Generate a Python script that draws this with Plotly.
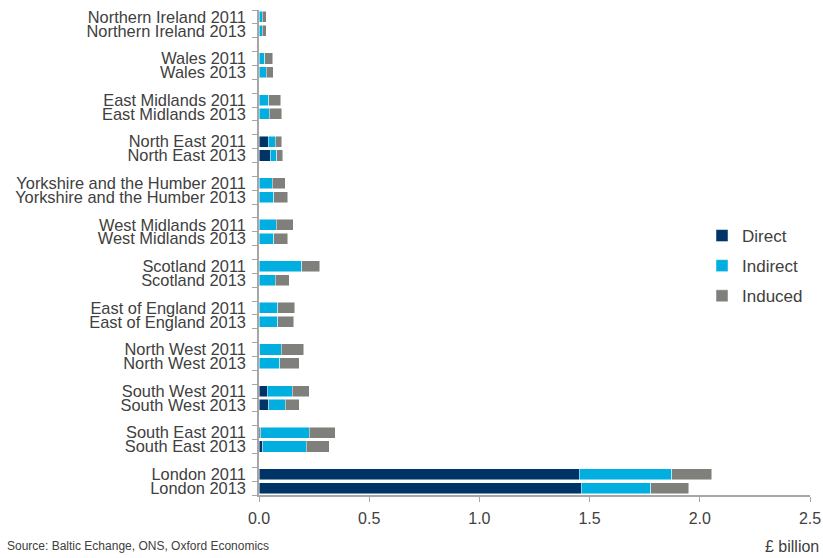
import plotly.graph_objects as go

# Regions, top to bottom; each has a 2011 and a 2013 bar
regions = [
    "Northern Ireland", "Wales", "East Midlands", "North East",
    "Yorkshire and the Humber", "West Midlands", "Scotland",
    "East of England", "North West", "South West", "South East", "London",
]
years = ["2011", "2013"]

# £ billion by component
direct_2011 = [0.0, 0.0, 0.0, 0.043, 0.0, 0.0, 0.0, 0.0, 0.003, 0.038, 0.008, 1.453]
direct_2013 = [0.0, 0.0, 0.0, 0.050, 0.0, 0.0, 0.0, 0.0, 0.002, 0.044, 0.018, 1.462]
indirect_2011 = [0.014, 0.027, 0.044, 0.030, 0.059, 0.079, 0.193, 0.086, 0.097, 0.112, 0.219, 0.420]
indirect_2013 = [0.014, 0.032, 0.047, 0.030, 0.068, 0.067, 0.073, 0.086, 0.093, 0.074, 0.197, 0.315]
induced_2011 = [0.020, 0.035, 0.055, 0.030, 0.059, 0.076, 0.082, 0.076, 0.103, 0.077, 0.118, 0.182]
induced_2013 = [0.020, 0.032, 0.056, 0.028, 0.063, 0.064, 0.065, 0.072, 0.087, 0.064, 0.103, 0.173]

series = [
    ("Direct", "#003366", direct_2011, direct_2013),
    ("Indirect", "#00AEDF", indirect_2011, indirect_2013),
    ("Induced", "#7F7F7B", induced_2011, induced_2013),
]

# Each region occupies three slots: 2011, 2013 and a blank spacer
ypos, labels = [], []
for g, region in enumerate(regions):
    for k, yr in enumerate(years):
        ypos.append(3 * g + k)
        labels.append(f"{region} {yr}")

fig = go.Figure()
for name, color, v11, v13 in series:
    xs = []
    for a, b in zip(v11, v13):
        xs.extend([a, b])
    fig.add_trace(go.Bar(
        y=ypos, x=xs, orientation="h", name=name, legendgroup=name,
        marker=dict(color=color, line=dict(color="rgba(255,255,255,0.8)", width=0.6)),
        width=0.8,
    ))

font_family = "Liberation Sans, Arial, sans-serif"
text_color = "#404040"
axis_color = "#A6A6A6"

L, R, T, B = 259, 13, 10, 63
W, H = 823, 558
pw, ph = W - L - R, H - T - B

fig.update_layout(
    width=W, height=H,
    margin=dict(l=L, r=R, t=T, b=B, autoexpand=False),
    barmode="stack",
    paper_bgcolor="white", plot_bgcolor="white",
    font=dict(family=font_family, size=16, color=text_color),
    legend=dict(
        x=(702 - L) / pw, y=(H - B - 266) / ph, xanchor="left", yanchor="middle",
        traceorder="grouped", tracegroupgap=5,
        font=dict(size=17, color=text_color),
        itemwidth=30,
    ),
    xaxis=dict(
        range=[0, 2.5], tickvals=[0, 0.5, 1.0, 1.5, 2.0, 2.5],
        ticktext=["0.0", "0.5", "1.0", "1.5", "2.0", "2.5"],
        showgrid=False, zeroline=False, automargin=False,
        showline=True, linecolor=axis_color, linewidth=1.5,
        ticks="outside", ticklen=5, tickcolor=axis_color,
        ticklabelstandoff=3,
        tickfont=dict(size=16, color=text_color),
    ),
    yaxis=dict(
        range=[34.5, -0.5], tickvals=ypos, ticktext=labels,
        showgrid=False, zeroline=False, automargin=False,
        showline=True, linecolor=axis_color, linewidth=1.5,
        ticks="", ticklabelstandoff=8,
        tickfont=dict(size=16.4, color=text_color),
        minor=dict(tick0=0.5, dtick=1, ticks="outside", ticklen=5,
                   tickcolor=axis_color, showgrid=False),
    ),
    annotations=[
        dict(text="Source: Baltic Echange, ONS, Oxford Economics",
             xref="paper", yref="paper", x=(5 - L) / pw, y=(H - B - 546) / ph,
             xanchor="left", yanchor="middle", showarrow=False,
             font=dict(size=12, color=text_color)),
        dict(text="£ billion", xref="paper", yref="paper",
             x=(821 - L) / pw, y=(H - B - 546) / ph, xanchor="right", yanchor="middle",
             showarrow=False, font=dict(size=16, color=text_color)),
    ],
)

fig.write_html("out.html")
